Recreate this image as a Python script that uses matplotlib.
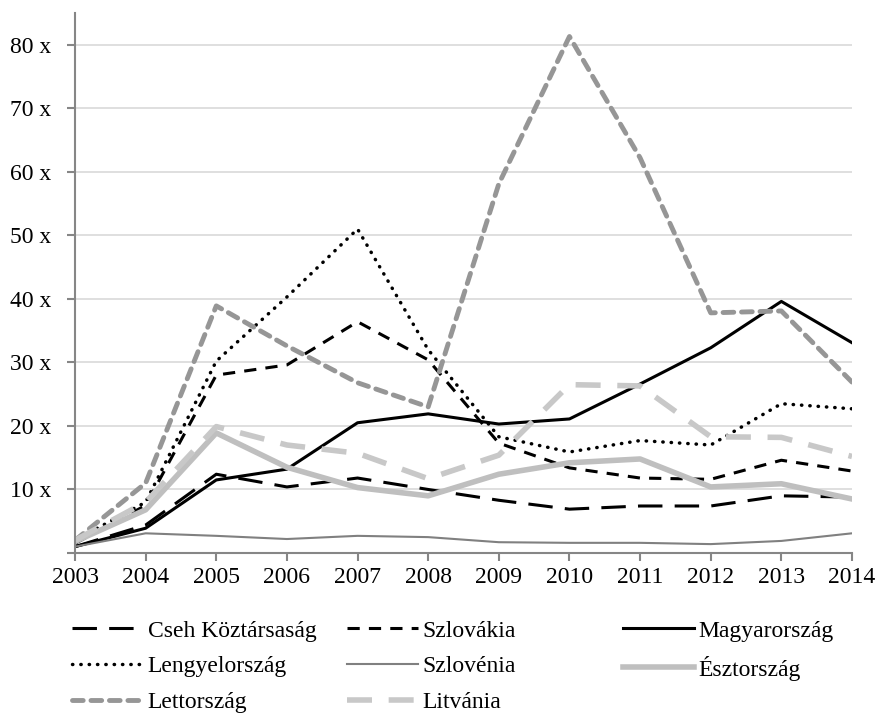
import numpy as np
import matplotlib
matplotlib.use('Agg')
from matplotlib import pyplot as plt

plt.rcParams['font.family'] = ['Liberation Serif', 'DejaVu Serif']

years = list(range(2003, 2015))

cseh = [1.0, 4.4, 12.4, 10.4, 11.8, 10.0, 8.3, 6.9, 7.4, 7.4, 9.0, 8.8]
szlovakia = [1.5, 7.5, 28.0, 29.6, 36.4, 30.4, 17.3, 13.4, 11.8, 11.6, 14.6, 12.9]
magyar = [1.0, 3.9, 11.5, 13.2, 20.5, 21.9, 20.3, 21.1, 26.6, 32.3, 39.6, 33.1]
lengyel = [2.0, 8.0, 30.2, 40.3, 51.0, 32.0, 18.3, 15.9, 17.7, 17.0, 23.5, 22.7]
szlovenia = [1.0, 3.1, 2.7, 2.2, 2.7, 2.5, 1.7, 1.6, 1.6, 1.4, 1.9, 3.1]
esztorszag = [1.8, 6.8, 18.9, 13.5, 10.3, 9.0, 12.4, 14.2, 14.8, 10.4, 10.9, 8.5]
lettorszag = [2.0, 11.0, 38.9, 32.6, 26.8, 23.0, 58.1, 81.3, 62.2, 37.8, 38.1, 26.9]
litvania = [2.0, 8.0, 19.9, 17.0, 15.7, 11.7, 15.4, 26.5, 26.3, 18.3, 18.2, 15.2]

ytick_vals = [0, 10, 20, 30, 40, 50, 60, 70, 80]
ytick_labels = ['', '10 x', '20 x', '30 x', '40 x', '50 x', '60 x', '70 x', '80 x']

series = [
    ('Cseh Köztársaság', cseh, dict(color='black', lw=2.2, dashes=(8, 4))),
    ('Szlovákia', szlovakia, dict(color='black', lw=2.2, dashes=(4, 3))),
    ('Magyarország', magyar, dict(color='black', lw=2.2)),
    ('Lengyelország', lengyel, dict(color='black', lw=2.5, dashes=(0.1, 2.3), dash_capstyle='round')),
    ('Szlovénia', szlovenia, dict(color='#808080', lw=1.5)),
    ('Észtország', esztorszag, dict(color='#bfbfbf', lw=4)),
    ('Lettország', lettorszag, dict(color='#969696', lw=3.5, dashes=(2.2, 1.6), dash_capstyle='round')),
    ('Litvánia', litvania, dict(color='#c8c8c8', lw=4, dashes=(4.5, 3))),
]

fig = plt.figure(figsize=(8.8, 7.15), dpi=100)
ax = fig.add_axes([75 / 880, (715 - 553) / 715, (852 - 75) / 880, (553 - 13) / 715])

handles = {}
for name, vals, style in series:
    ln, = ax.plot(years, vals, label=name, solid_joinstyle='round', **style)
    handles[name] = ln

ax.set_xlim(2003, 2014)
ax.set_ylim(0, 85)
ax.set_xticks(years)
ax.set_yticks(ytick_vals)
ax.set_yticklabels(ytick_labels)
ax.tick_params(labelsize=17, color='#868686', length=6, width=1.5, direction='out')
ax.tick_params(axis='x', pad=4)
ax.tick_params(axis='y', pad=11)
ax.yaxis.grid(True, color='#d9d9d9', lw=1.2)
ax.set_axisbelow(True)
for s in ['top', 'right']:
    ax.spines[s].set_visible(False)
for s in ['left', 'bottom']:
    ax.spines[s].set_color('#868686')
    ax.spines[s].set_linewidth(1.5)

columns = [
    (['Cseh Köztársaság', 'Lengyelország', 'Lettország'], 72),
    (['Szlovákia', 'Szlovénia', 'Litvánia'], 347),
    (['Magyarország', 'Észtország'], 623),
]
for names, x0 in columns:
    fig.legend([handles[n] for n in names], names, loc='upper left',
               bbox_to_anchor=(x0 / 880, 1 - 620 / 715), frameon=False,
               fontsize=17, handlelength=3.0, handletextpad=0.2,
               labelspacing=0.6, borderaxespad=0, borderpad=0)

fig.savefig('out.png', dpi=100)
